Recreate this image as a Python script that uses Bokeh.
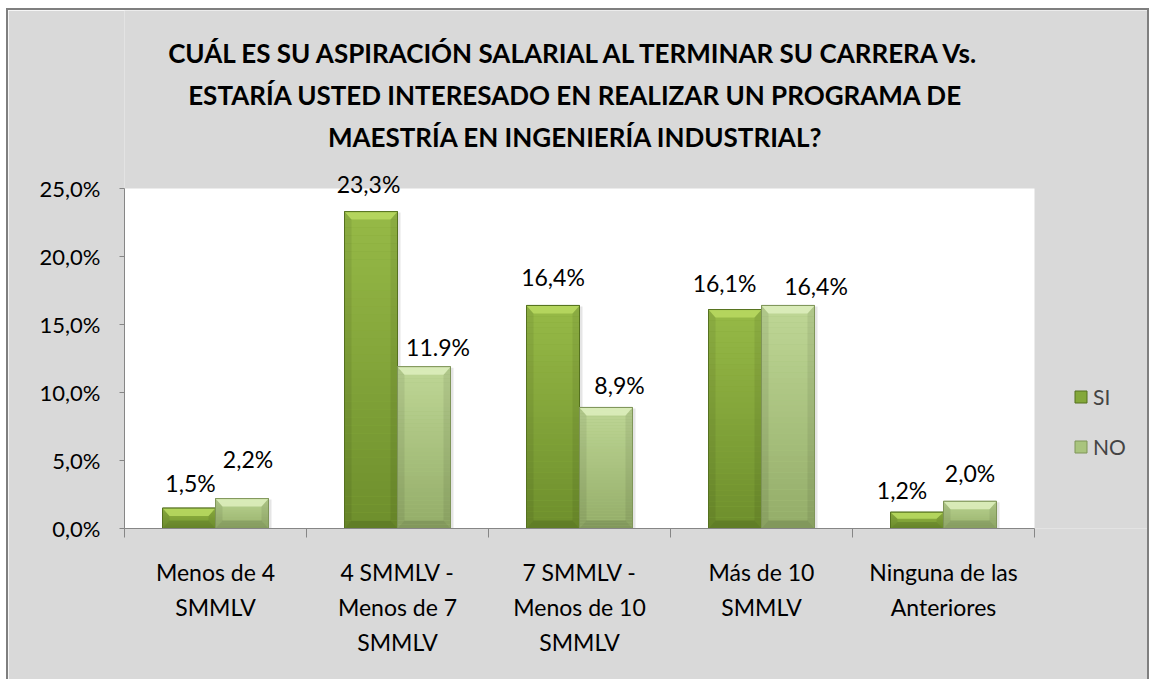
import numpy as np
from bokeh.plotting import figure
from bokeh.models import (Range1d, FixedTicker, ColumnDataSource, LabelSet, Label,
                          Legend, LegendItem, LinearAxis)
from bokeh.core.properties import value
from bokeh.embed import file_html
from bokeh.resources import INLINE

# ---------------- data ----------------
categories = ["Menos de 4\nSMMLV",
              "4 SMMLV -\nMenos de 7\nSMMLV",
              "7 SMMLV -\nMenos de 10\nSMMLV",
              "Más de 10\nSMMLV",
              "Ninguna de las\nAnteriores"]
si_values = [1.5, 23.3, 16.4, 16.1, 1.2]
no_values = [2.2, 11.9, 8.9, 16.4, 2.0]
si_labels = ["1,5%", "23,3%", "16,4%", "16,1%", "1,2%"]
no_labels = ["2,2%", "11.9%", "8,9%", "16,4%", "2,0%"]
series_names = ["SI", "NO"]
y_ticks = [0, 5, 10, 15, 20, 25]
y_tick_labels = ["0,0%", "5,0%", "10,0%", "15,0%", "20,0%", "25,0%"]
title_lines = ["CUÁL ES SU ASPIRACIÓN SALARIAL AL TERMINAR SU CARRERA Vs.",
               "ESTARÍA USTED INTERESADO EN REALIZAR UN PROGRAMA DE",
               "MAESTRÍA EN INGENIERÍA INDUSTRIAL?"]

# ---------------- layout (pixels) ----------------
FONT = "Lato"
OX, OY = 8, 10                 # canvas origin on the page
W, H = 1143, 671
PLOT_L, PLOT_R, PLOT_T, PLOT_B = 124, 1034, 188, 528   # white plot area on page
NCAT = len(categories)
Y_MAX = y_ticks[-1]
PX_X = (PLOT_R - PLOT_L) / NCAT
PX_Y = (PLOT_B - PLOT_T) / Y_MAX
ML = PLOT_L - OX
MB = OY + H - PLOT_B
x_end = (OX + W - PLOT_L) / PX_X
y_end = (PLOT_B - OY) / PX_Y
# hand-placed data-label nudges (screen px), as in the original chart
si_lab_dx = [1.5, -2.5, 0, -10.5, -15]
si_lab_dy = [25.6, 28, 28, 27, 22]
no_lab_dx = [6, 14, 13.5, 28, 0]
no_lab_dy = [40, 20, 22, 19, 28]

p = figure(width=W, height=H, output_backend="svg", toolbar_location=None,
           x_range=Range1d(0, x_end), y_range=Range1d(0, y_end),
           min_border=0, min_border_left=ML, min_border_right=0,
           min_border_top=0, min_border_bottom=MB, x_axis_location=None)
p.styles = {"margin-left": "6px", "margin-top": "8px",
            "border-left": "2px solid #7f7f7f", "border-top": "2px solid #7f7f7f",
            "border-right": "2px solid #7f7f7f"}
p.border_fill_color = "#d9d9d9"
p.background_fill_color = "#d9d9d9"
p.outline_line_color = None
p.grid.visible = False

# white plot area
p.quad(left=0, right=NCAT, bottom=0, top=Y_MAX, fill_color="white", line_color=None)

AX_COL = "#868686"
LBL_SIZE = "23px"

# category axes: first carries axis line + boundary ticks, next ones extra text lines
centers = np.arange(NCAT) + 0.5
lines = [c.split("\n") for c in categories]
nlines = max(len(l) for l in lines)
standoffs = [20, 4, 4]
for j in range(nlines):
    idx = [i for i in range(NCAT) if len(lines[i]) > j]
    ticker = FixedTicker(ticks=[float(centers[i]) for i in idx],
                         minor_ticks=list(range(NCAT + 1)) if j == 0 else [])
    ax = LinearAxis(ticker=ticker,
                    major_label_overrides={float(centers[i]): lines[i][j] for i in idx},
                    axis_line_color=AX_COL if j == 0 else None,
                    major_tick_line_color=None,
                    minor_tick_line_color=AX_COL if j == 0 else None,
                    minor_tick_out=9, minor_tick_in=0,
                    major_tick_out=0, major_tick_in=0,
                    major_label_standoff=standoffs[j],
                    major_label_text_font=FONT, major_label_text_font_size=LBL_SIZE,
                    major_label_text_color="#000000")
    if j == 0:
        ax.bounds = (0, NCAT)
    p.add_layout(ax, "below")

p.yaxis.ticker = FixedTicker(ticks=y_ticks)
p.yaxis.bounds = (0, Y_MAX)
p.yaxis.major_label_overrides = {t: l for t, l in zip(y_ticks, y_tick_labels)}
p.yaxis.major_tick_out = 5
p.yaxis.major_tick_in = 0
p.yaxis.minor_tick_line_color = None
p.yaxis.major_label_standoff = 19
p.yaxis.axis_line_color = AX_COL
p.yaxis.major_tick_line_color = AX_COL
p.yaxis.major_label_text_font = FONT
p.yaxis.major_label_text_color = "#000000"
p.yaxis.major_label_text_font_size = "22px"

# ---------------- bars ----------------
BW = 53 / PX_X
si_x = centers - BW / 2
no_x = centers + BW / 2

def hex2rgb(h):
    h = h.lstrip("#")
    return [int(h[i:i + 2], 16) for i in (0, 2, 4)]

def lerp(c1, c2, t):
    a, b = hex2rgb(c1), hex2rgb(c2)
    return "#%02x%02x%02x" % tuple(int(round(a[i] + (b[i] - a[i]) * t)) for i in range(3))

styles = {
    "SI": dict(bottom="#6d8e2c", top="#97ba47", cap="#b7d85f", edge="#55711f", base="#84a83a"),
    "NO": dict(bottom="#93ac68", top="#bfd796", cap="#dcedbb", edge="#7f9559", base="#a9c47e"),
}

legend_items = []
for name, xs, vals in zip(series_names, (si_x, no_x), (si_values, no_values)):
    st = styles[name]
    # soft shadow to the lower right
    p.vbar(x=xs + 3 / PX_X, top=np.array(vals) - 1 / PX_Y, width=BW, fill_color="black",
           fill_alpha=0.10, line_color=None)
    base = p.vbar(x=xs, top=vals, width=BW, fill_color=st["base"], line_color=st["edge"])
    legend_items.append(LegendItem(label=name, renderers=[base]))
    N = 40
    sx, sb, stp, sc = [], [], [], []
    for x, v in zip(xs, vals):
        for k in range(N):
            sx.append(x)
            sb.append(v * k / N)
            stp.append(v * (k + 1) / N)
            sc.append(lerp(st["bottom"], st["top"], (k + 0.5) / N))
    p.vbar(x=sx, bottom=sb, top=stp, width=BW, fill_color=sc, line_color=None)
    dx = 7 / PX_X
    caps_x, caps_y, side_x, side_y, bot_x, bot_y = [], [], [], [], [], []
    for x, v in zip(xs, vals):
        dy = min(8 / PX_Y, v / 2.5)
        l, r = x - BW / 2, x + BW / 2
        caps_x.append([l, r, r - dx, l + dx]); caps_y.append([v, v, v - dy, v - dy])
        side_x.append([l, l + dx, l + dx, l]); side_y.append([0, dy, v - dy, v])
        side_x.append([r, r - dx, r - dx, r]); side_y.append([0, dy, v - dy, v])
        bot_x.append([l, r, r - dx, l + dx]); bot_y.append([0, 0, dy, dy])
    p.patches(side_x, side_y, fill_color="black", fill_alpha=0.07, line_color=None)
    p.patches(bot_x, bot_y, fill_color="black", fill_alpha=0.12, line_color=None)
    p.patches(caps_x, caps_y, fill_color=st["cap"], fill_alpha=0.9, line_color=None)
    p.vbar(x=xs, top=vals, width=BW, fill_color=None, line_color=st["edge"], line_width=1)

# ---------------- value labels ----------------
lab_src = ColumnDataSource(dict(x=list(si_x) + list(no_x),
                                y=si_values + no_values,
                                t=si_labels + no_labels,
                                dx=si_lab_dx + no_lab_dx,
                                dy=si_lab_dy + no_lab_dy))
p.add_layout(LabelSet(x="x", y="y", text="t", source=lab_src, x_offset="dx", y_offset="dy",
                      text_align="center", text_baseline="middle",
                      text_font=value(FONT), text_font_size="23px", text_color="black"))

# ---------------- title ----------------
title_y_px = [52, 94, 136]
for line, py in zip(title_lines, title_y_px):
    p.add_layout(Label(x=(575 - PLOT_L) / PX_X, y=(PLOT_B - py) / PX_Y,
                       text=line, text_align="center", text_baseline="middle",
                       text_font=FONT, text_font_style="bold", text_font_size="26px",
                       text_color="black"))

# ---------------- legend ----------------
legend = Legend(items=legend_items, location=(1073 - PLOT_L, PLOT_B - 458.5),
                glyph_width=15, glyph_height=15, label_height=20, spacing=25,
                padding=0, margin=0, label_standoff=5,
                label_text_font=FONT, label_text_font_size="21px",
                border_line_alpha=0, background_fill_alpha=0)
p.add_layout(legend)

open("out.html", "w").write(file_html(p, INLINE))
